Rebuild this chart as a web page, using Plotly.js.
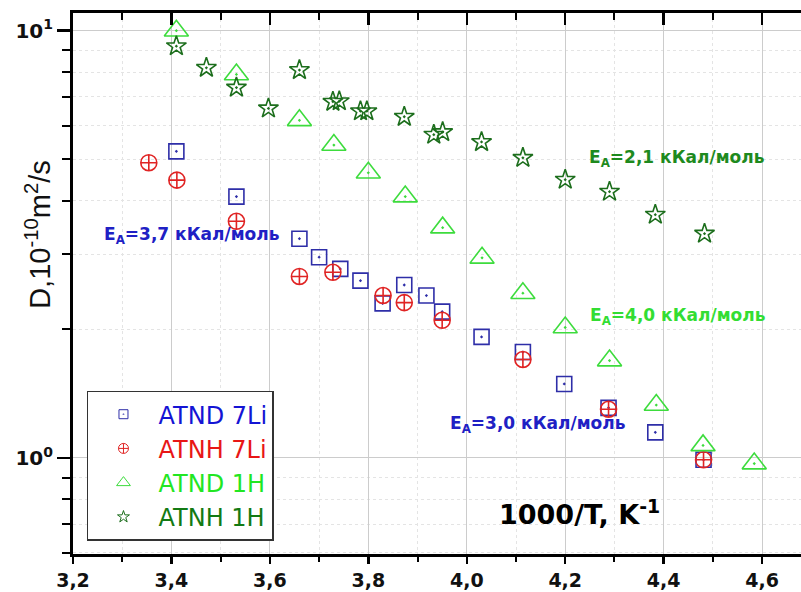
<!DOCTYPE html>
<html>
<head>
<meta charset="utf-8">
<script src="https://cdn.plot.ly/plotly-3.0.1.min.js"></script>
<style>html,body{margin:0;padding:0;background:#fff;}#chart{width:801px;height:592px;}</style>
</head>
<body>
<div id="chart"></div>
<script>
// ---- data ----
const atnd7Li_x = [3.41, 3.532, 3.660, 3.700, 3.743, 3.784, 3.829, 3.873, 3.918, 3.950, 4.030, 4.114, 4.198, 4.288, 4.383, 4.481];
const atnd7Li_y = [5.22, 4.09, 3.26, 2.95, 2.77, 2.60, 2.30, 2.54, 2.40, 2.20, 1.92, 1.77, 1.49, 1.31, 1.148, 0.99];

const atnh7Li_x = [3.354, 3.411, 3.532, 3.660, 3.728, 3.830, 3.873, 3.950, 4.114, 4.288, 4.481];
const atnh7Li_y = [4.91, 4.47, 3.58, 2.66, 2.72, 2.40, 2.31, 2.10, 1.70, 1.30, 0.99];

const atnd1H_x = [3.41, 3.532, 3.660, 3.730, 3.800, 3.875, 3.951, 4.031, 4.114, 4.200, 4.290, 4.385, 4.480, 4.584];
const atnd1H_y = [10.0, 7.90, 6.17, 5.40, 4.65, 4.09, 3.46, 2.94, 2.43, 2.02, 1.69, 1.33, 1.07, 0.97];

const atnh1H_x = [3.41, 3.471, 3.532, 3.597, 3.660, 3.728, 3.741, 3.784, 3.797, 3.873, 3.933, 3.951, 4.030, 4.114, 4.200, 4.290, 4.383, 4.483];
const atnh1H_y = [9.2, 8.19, 7.36, 6.58, 8.09, 6.82, 6.84, 6.48, 6.48, 6.29, 5.71, 5.79, 5.49, 5.04, 4.48, 4.20, 3.71, 3.35];

const seriesNames = ['ATND 7Li', 'ATNH 7Li', 'ATND 1H', 'ATNH 1H'];
const xTickVals = [3.2, 3.4, 3.6, 3.8, 4.0, 4.2, 4.4, 4.6];
const xTickText = ['3,2', '3,4', '3,6', '3,8', '4,0', '4,2', '4,4', '4,6'];
const yTickVals = [1, 10];
const yTickText = ['10<sup>0</sup>', '10<sup>1</sup>'];
const annTexts = ['E<sub>A</sub>=3,7 кКал/моль', 'E<sub>A</sub>=2,1 кКал/моль', 'E<sub>A</sub>=4,0 кКал/моль', 'E<sub>A</sub>=3,0 кКал/моль'];
const xTitle = '1000/T, K<sup>-1</sup>';
const yTitle = 'D,10<sup>-10</sup>m<sup>2</sup>/s';

// ---- styles ----
const cBlue = '#2e2ea8', cRed = '#e02424', cLime = '#3ddc3d', cDark = '#1c6e1c';
const legBlue = '#1414d4', legRed = '#e81616', legLime = '#22e622', legDark = '#137a13';
const FAM = 'DejaVu Sans, sans-serif';

const data = [
  {x: atnd7Li_x, y: atnd7Li_y, mode: 'markers', type: 'scatter', showlegend: false,
   marker: {symbol: 'square-open-dot', size: 15, color: cBlue, line: {width: 1.6, color: cBlue}}},
  {x: atnh7Li_x, y: atnh7Li_y, mode: 'markers', type: 'scatter', showlegend: false,
   marker: {symbol: 'circle-cross-open', size: 16, color: cRed, line: {width: 1.6, color: cRed}}},
  {x: atnd1H_x, y: atnd1H_y, mode: 'markers', type: 'scatter', showlegend: false,
   marker: {symbol: 'triangle-up-open-dot', size: 21, color: cLime, line: {width: 1.6, color: cLime}}},
  {x: atnh1H_x, y: atnh1H_y, mode: 'markers', type: 'scatter', showlegend: false,
   marker: {symbol: 'star-open-dot', size: 15, color: cDark, line: {width: 1.6, color: cDark}}},
  // legend entries (small legend symbols, no marks on the plot)
  {x: [null], y: [null], mode: 'markers', type: 'scatter', name: '<span style="color:' + legBlue + '">' + seriesNames[0] + '</span>',
   marker: {symbol: 'square-open-dot', size: 9, color: cBlue, line: {width: 1, color: cBlue}}},
  {x: [null], y: [null], mode: 'markers', type: 'scatter', name: '<span style="color:' + legRed + '">' + seriesNames[1] + '</span>',
   marker: {symbol: 'circle-cross-open', size: 10, color: cRed, line: {width: 1, color: cRed}}},
  {x: [null], y: [null], mode: 'markers', type: 'scatter', name: '<span style="color:' + legLime + '">' + seriesNames[2] + '</span>',
   marker: {symbol: 'triangle-up-open', size: 12, color: cLime, line: {width: 1, color: cLime}}},
  {x: [null], y: [null], mode: 'markers', type: 'scatter', name: '<span style="color:' + legDark + '">' + seriesNames[3] + '</span>',
   marker: {symbol: 'star-open', size: 9, color: cDark, line: {width: 1, color: cDark}}},
  // dummy trace so the top tick axis is drawn
  {x: [null], y: [null], xaxis: 'x2', mode: 'markers', type: 'scatter', showlegend: false, hoverinfo: 'skip'}
];

const tickFont = {family: FAM, size: 19, color: '#111', weight: 700};

const layout = {
  width: 801, height: 592,
  margin: {l: 73, r: 0, t: 13, b: 38, pad: 0},
  paper_bgcolor: '#fff', plot_bgcolor: '#fff',
  separators: ',.',
  showlegend: true,
  xaxis: {
    range: [3.2, 4.679], tickvals: xTickVals, ticktext: xTickText.map(t => '<b>' + t + '</b>'),
    showline: true, linewidth: 3, linecolor: '#000', mirror: true,
    ticks: 'outside', ticklen: 7, tickwidth: 2.5, tickcolor: '#000',
    showgrid: true, gridcolor: '#cccccc', gridwidth: 1,
    zeroline: false, tickfont: tickFont,
    minor: {dtick: 0.1, tick0: 3.2, ticks: 'outside', ticklen: 5, tickwidth: 2, tickcolor: '#000',
            showgrid: true, gridcolor: '#e4e4e4', griddash: 'dot', gridwidth: 1}
  },
  xaxis2: {
    overlaying: 'x', side: 'top', range: [3.2, 4.679], dtick: 0.2, tick0: 3.2,
    showticklabels: false, showline: false, showgrid: false, zeroline: false,
    ticks: 'inside', ticklen: 12, tickwidth: 2.5, tickcolor: '#000',
    minor: {dtick: 0.1, ticks: 'inside', ticklen: 7, tickwidth: 2, tickcolor: '#000', showgrid: false}
  },
  yaxis: {
    type: 'log', range: [-0.2248, 1.0415],
    tickvals: yTickVals, ticktext: yTickText.map(t => '<b>' + t + '</b>'),
    showline: true, linewidth: 3, linecolor: '#000', mirror: true,
    ticks: 'outside', ticklen: 13, tickwidth: 2.5, tickcolor: '#000',
    showgrid: true, gridcolor: '#cccccc', gridwidth: 1,
    zeroline: false, tickfont: {family: FAM, size: 20, color: '#111', weight: 700},
    minor: {ticks: 'outside', ticklen: 8, tickwidth: 2, tickcolor: '#000',
            tickvals: [0.6, 0.7, 0.8, 0.9, 2, 3, 4, 5, 6, 7, 8, 9],
            showgrid: true, gridcolor: '#e4e4e4', griddash: 'dot', gridwidth: 1}
  },
  legend: {
    x: 0.0192, y: 0.302, xanchor: 'left', yanchor: 'top',
    bgcolor: '#fff', bordercolor: '#333', borderwidth: 1.5,
    font: {family: FAM, size: 24, color: '#000'},
    itemwidth: 60, tracegroupgap: 0
  },
  annotations: [
    {xref: 'paper', yref: 'paper', x: 0.0398, y: 0.588, xanchor: 'left', yanchor: 'middle', showarrow: false,
     text: '<b>' + annTexts[0] + '</b>', font: {family: FAM, size: 17, color: '#2020c4', weight: 700}},
    {xref: 'paper', yref: 'paper', x: 0.706, y: 0.7307, xanchor: 'left', yanchor: 'middle', showarrow: false,
     text: '<b>' + annTexts[1] + '</b>', font: {family: FAM, size: 17, color: '#1e8a1e', weight: 700}},
    {xref: 'paper', yref: 'paper', x: 0.7074, y: 0.4386, xanchor: 'left', yanchor: 'middle', showarrow: false,
     text: '<b>' + annTexts[2] + '</b>', font: {family: FAM, size: 17, color: '#33dd33', weight: 700}},
    {xref: 'paper', yref: 'paper', x: 0.5147, y: 0.2392, xanchor: 'left', yanchor: 'middle', showarrow: false,
     text: '<b>' + annTexts[3] + '</b>', font: {family: FAM, size: 17, color: '#2020c4', weight: 700}},
    {xref: 'paper', yref: 'paper', x: 0.5824, y: 0.0763, xanchor: 'left', yanchor: 'middle', showarrow: false,
     text: '<b>' + xTitle + '</b>', font: {family: FAM, size: 27, color: '#000', weight: 700}},
    {xref: 'paper', yref: 'paper', x: -0.048, y: 0.59, xanchor: 'center', yanchor: 'middle', showarrow: false,
     textangle: -90, text: yTitle, font: {family: 'Liberation Sans, Arial, sans-serif', size: 29, color: '#111'}}
  ]
};

Plotly.newPlot('chart', data, layout, {displayModeBar: false, staticPlot: true});
</script>
</body>
</html>
